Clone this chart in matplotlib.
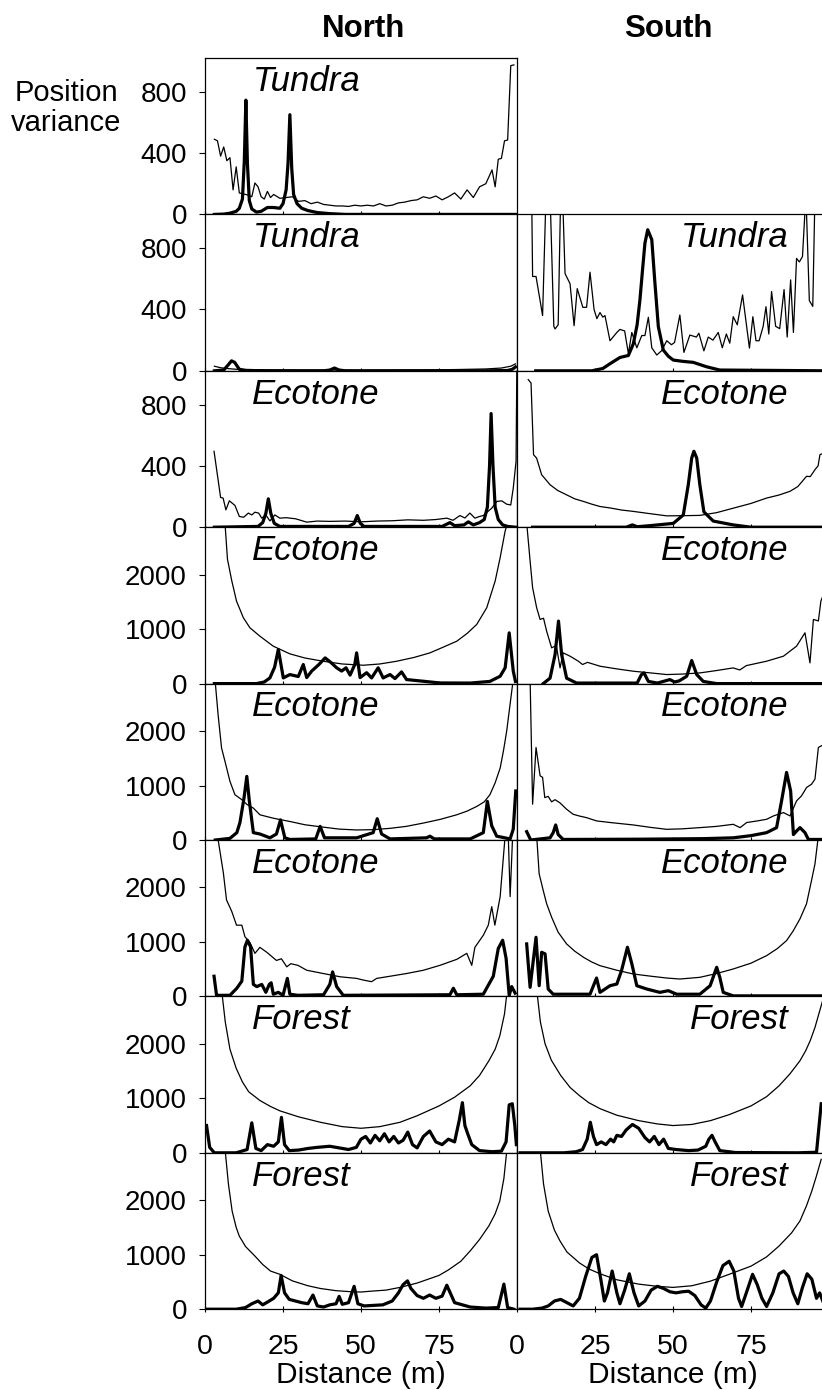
import matplotlib.pyplot as plt

plt.rcParams['font.family'] = ['Liberation Sans', 'DejaVu Sans']

# (distance in m, position variance) pairs
# thin line = variance of the estimate, thick line = peak of the position curve

# ---- North column ----
N1_THIN = [(3, 490), (4, 480), (5, 380), (6, 440), (7, 350), (8, 370), (9, 160), (10, 310), (11, 140),
           (12, 135), (13, 130), (14, 125), (15, 115), (16, 205), (17, 180), (18, 115), (19, 100), (20, 150),
           (21, 110), (22, 130), (24, 105), (26, 110), (28, 115), (30, 85), (32, 90), (34, 70), (36, 80),
           (38, 65), (40, 60), (42, 55), (44, 55), (46, 52), (48, 60), (50, 55), (52, 60), (54, 55), (56, 70),
           (58, 55), (60, 60), (62, 75), (64, 80), (66, 90), (68, 95), (70, 115), (72, 105), (74, 120),
           (76, 95), (78, 115), (80, 140), (82, 100), (84, 160), (86, 110), (88, 180), (90, 200), (92, 290),
           (93, 180), (94, 360), (95, 365), (96, 480), (97, 485), (98, 970), (99, 975)]
N1_THICK = [(3, 0), (6, 2), (8, 8), (10, 20), (11, 40), (12, 100), (12.6, 350), (13.1, 745), (13.6, 330),
            (14.2, 90), (15, 35), (16.5, 15), (18, 20), (20, 45), (22, 45), (24, 40), (25, 70), (26, 160),
            (26.6, 330), (27.2, 650), (27.8, 300), (28.4, 130), (29.5, 70), (31, 40), (33, 25), (36, 12),
            (40, 5), (45, 0), (99.5, 0)]

N2_THIN = [(3, 30), (5, 20), (7, 15), (10, 10), (15, 8), (20, 6), (30, 5), (40, 5), (50, 4), (60, 5),
           (70, 6), (80, 8), (90, 12), (95, 18), (98, 30), (99.5, 45)]
N2_THICK = [(3, 0), (6, 5), (7.5, 40), (8.5, 65), (9.5, 55), (11, 10), (13, 2), (20, 0), (38, 0), (40, 5),
            (41.5, 18), (43, 5), (45, 0), (60, 0), (90, 0), (97, 2), (98.5, 10), (99.5, 25)]

N3_THIN = [(2.9, 495), (5.0, 194), (5.8, 190), (6.7, 113), (7.8, 172), (9.6, 142), (11.0, 70), (12.4, 65),
           (13.9, 92), (15.0, 80), (16.0, 98), (17.2, 92), (18.2, 59), (19.5, 80), (20.8, 41), (22.4, 80),
           (24, 59), (26, 62), (29, 55), (32.6, 33), (36, 40), (40, 38), (45, 40), (50, 35), (55, 40),
           (60, 42), (65, 48), (70, 45), (74, 50), (77.5, 59), (79.5, 45), (81.7, 76), (83.3, 60), (84.9, 92),
           (86.5, 59), (88, 70), (89.2, 76), (91.9, 124), (93.5, 168), (95.1, 172), (96.7, 150), (98.0, 145),
           (98.8, 255), (99.7, 430), (99.95, 1050)]
N3_THICK = [(3, 0), (17, 5), (18.5, 30), (19.5, 90), (20.3, 185), (21.1, 90), (22.2, 25), (24, 5), (46, 5),
            (47.8, 25), (48.8, 76), (49.8, 25), (51, 5), (76, 5), (78.5, 30), (80, 10), (83, 15), (84.4, 35),
            (86, 15), (88, 30), (89.5, 50), (90.5, 130), (91.2, 400), (91.7, 741), (92.3, 400), (93, 130),
            (94, 50), (95.4, 15), (97, 5), (99.5, 0)]

N4_THIN = [(6.4, 2950), (7.2, 2282), (8.6, 1882), (10.1, 1514), (12.3, 1208), (14.4, 1024), (17.6, 870),
           (21.9, 686), (27.2, 546), (32, 470), (37.9, 410), (44, 360), (50.7, 337), (56, 360), (61.4, 410),
           (67, 480), (72.1, 564), (76, 660), (80.7, 778), (84, 920), (87.1, 1086), (90.3, 1392), (93, 1882),
           (94.6, 2312), (96.2, 2800), (97, 2950)]
N4_THICK = [(3, 0), (16.5, 0), (19, 30), (20.8, 104), (22.3, 300), (23.5, 626), (24.5, 300), (25.1, 104),
            (27.2, 166), (29.9, 130), (31.5, 350), (32.6, 110), (34.2, 230), (36.5, 350), (38.5, 472),
            (40.5, 380), (42.2, 290), (43.8, 230), (45.2, 290), (46.5, 155), (48, 350), (48.6, 564),
            (49.7, 110), (51.8, 200), (53.4, 104), (55.5, 290), (57.1, 104), (59.3, 166), (60.9, 92),
            (63, 215), (64.6, 74), (70, 43), (75.3, 12), (85, 10), (91.3, 40), (94.6, 135), (96.2, 290),
            (97.5, 931), (98.8, 230), (99.5, 40)]

N5_THIN = [(3.2, 2950), (4.2, 2300), (5.3, 1690), (6.4, 1444), (8.0, 1076), (9.6, 830), (11.8, 740),
           (13.5, 650), (15.5, 585), (17.6, 463), (19.8, 430), (21.9, 400), (24.5, 370), (27.2, 340),
           (32, 280), (37.9, 236), (43, 200), (48.6, 184), (54, 190), (59.3, 214), (64.5, 250), (70, 311),
           (75.5, 380), (80.7, 463), (84, 530), (87.1, 616), (89.5, 700), (91.3, 830), (93, 1050),
           (94.6, 1320), (95.7, 1650), (96.7, 2000), (97.8, 2500), (98.8, 2950)]
N5_THICK = [(3.3, 0), (8, 30), (10.2, 135), (11.2, 320), (12.5, 770), (13.4, 1168), (14.2, 720),
            (15.5, 135), (17.6, 110), (20.8, 40), (22.9, 110), (24.2, 370), (25.6, 40), (27.2, 10),
            (35.5, 20), (36.9, 250), (38.3, 40), (48.6, 40), (53.9, 135), (55.2, 390), (56.6, 110),
            (59.3, 20), (71, 40), (72.1, 70), (73.5, 20), (85, 20), (89.2, 135), (90.5, 708), (91.9, 260),
            (93.5, 70), (97.8, 20), (98.8, 200), (99.6, 900)]

N6_THIN = [(4.0, 2950), (5.9, 2260), (6.9, 1770), (8.6, 1555), (10.1, 1307), (11.8, 1307), (12.8, 1095),
           (14.4, 990), (16.0, 790), (17.6, 900), (19.8, 810), (22.9, 660), (24.5, 690), (26.2, 543),
           (27.5, 600), (29.8, 570), (32.6, 480), (37.9, 420), (43.3, 360), (48.6, 330), (50.7, 300),
           (53.4, 270), (55, 330), (59.3, 370), (64.6, 420), (70, 480), (75.3, 570), (80.7, 680),
           (83.9, 790), (85.5, 570), (86.5, 900), (89.2, 1122), (90.8, 1307), (91.9, 1647), (92.9, 1307),
           (94.6, 1830), (96.2, 2950), (97.2, 2950), (97.8, 1830), (98.6, 2950)]
N6_THICK = [(2.9, 370), (3.7, 20), (8, 20), (10.2, 150), (11.8, 280), (12.8, 910), (13.6, 1030),
            (14.6, 910), (15.5, 220), (16.6, 180), (18.2, 220), (19.5, 75), (20.6, 220), (21.2, 250),
            (21.9, 40), (23.5, 75), (25, 20), (26.4, 330), (27.2, 40), (29.8, 20), (38, 30), (40, 220),
            (40.9, 450), (42.2, 180), (44.3, 20), (78.5, 30), (79.6, 150), (80.7, 30), (89.2, 40),
            (92.4, 370), (94, 880), (95.4, 1030), (96.5, 700), (97.5, 20), (98.3, 180), (99.4, 60)]

N7_THIN = [(5.4, 2950), (6.5, 2400), (8, 1900), (10, 1550), (12, 1300), (14, 1120), (17.6, 960),
           (21, 850), (24, 770), (30, 660), (37, 560), (44, 480), (50, 450), (56, 480), (62.5, 560),
           (68, 680), (75, 860), (80, 1020), (85, 1230), (88, 1420), (91, 1690), (93, 1900), (94.5, 2150),
           (96, 2550), (96.8, 2950)]
N7_THICK = [(0.5, 500), (1.5, 100), (3, 0), (10, 0), (13.5, 60), (15, 550), (16.3, 80), (18, 40),
            (20, 150), (22, 120), (23.5, 200), (24.5, 650), (25.5, 150), (27, 40), (30, 50), (33, 80),
            (36, 100), (40, 120), (43, 90), (46, 60), (48.5, 100), (50, 250), (51.5, 300), (53, 180),
            (54.5, 320), (56, 220), (57.5, 350), (59, 200), (60.5, 300), (62, 180), (63.5, 230), (65, 380),
            (66.5, 150), (68, 90), (70, 300), (72, 400), (74, 200), (76, 150), (78, 250), (80, 200),
            (81.5, 600), (82.5, 920), (83.3, 500), (84.2, 350), (85.5, 150), (88, 40), (92, 20), (95, 30),
            (96.5, 200), (97.5, 880), (98.5, 900), (99.3, 500), (99.8, 150)]

N8_THIN = [(6.4, 2950), (7.5, 2300), (8.7, 1800), (10, 1500), (11, 1340), (13, 1150), (16, 975),
           (18.5, 820), (21, 700), (24, 640), (28, 520), (33, 430), (37, 380), (42, 340), (47, 320),
           (50, 315), (53, 330), (58, 350), (62.5, 400), (68, 480), (72, 560), (75, 620), (78, 720),
           (82, 880), (85, 1070), (88, 1280), (91, 1530), (93, 1750), (94.5, 1990), (95.8, 2400),
           (96.8, 2950)]
N8_THICK = [(0.5, 0), (10, 0), (13, 30), (15, 100), (17, 150), (18.5, 80), (20, 130), (22, 200),
            (23.5, 300), (24.4, 620), (25.5, 300), (27, 180), (29, 150), (31, 120), (33, 100), (34.6, 260),
            (36, 60), (38, 40), (40, 80), (42, 100), (43, 235), (44, 90), (46, 120), (47.8, 420), (49, 100),
            (51, 60), (54, 70), (57, 80), (60, 150), (62, 300), (63.5, 450), (64.9, 520), (66, 380),
            (68, 250), (70, 200), (72, 260), (74, 200), (76, 240), (77.5, 440), (80, 120), (85, 40),
            (90, 20), (94, 30), (95.8, 460), (97, 30), (99, 0)]

# ---- South column (no first-row panel) ----
S2_THIN = [(4.7, 1150), (5.0, 615), (6.1, 615), (7.4, 458), (8.2, 360), (9.3, 1150), (10.6, 1150),
           (11.8, 290), (12.2, 273), (13.2, 300), (14.0, 1150), (14.6, 1150), (15.4, 634), (17.0, 568),
           (18.3, 294), (19.3, 536), (21.1, 414), (22.3, 414), (23.4, 643), (24.7, 400), (25.6, 340),
           (26.6, 380), (27.5, 350), (28.2, 360), (29.8, 196), (32.0, 250), (33.0, 270), (34.5, 260),
           (35.7, 112), (36.8, 250), (38.4, 150), (40.0, 230), (41.0, 230), (42.1, 349), (43.2, 150),
           (44.8, 103), (46.3, 130), (48.0, 196), (49.5, 170), (50.5, 185), (52.2, 364), (53.5, 120),
           (55.4, 233), (57.5, 220), (58.3, 245), (59.9, 130), (61.3, 220), (62.8, 200), (64.5, 250),
           (65.8, 150), (67.1, 240), (68.2, 180), (69.3, 353), (70.6, 300), (72.3, 495), (74.5, 148),
           (75.6, 353), (76.6, 196), (77.6, 196), (78.9, 290), (79.8, 418), (80.7, 240), (81.6, 517),
           (82.9, 290), (84.2, 275), (85.6, 530), (86.6, 220), (87.7, 593), (88.6, 250), (89.6, 733),
           (90.5, 710), (91.5, 745), (92.6, 1150), (93.7, 458), (94.8, 420), (95.5, 1150), (97, 1150)]
S2_THICK = [(6, 0), (24, 0), (27.5, 15), (29.8, 46), (33, 87), (35.7, 100), (37.3, 177), (38.5, 300),
            (39.4, 462), (40.2, 650), (41, 832), (41.9, 920), (43.2, 855), (44.2, 574), (45.3, 288),
            (46.9, 135), (48.5, 95), (50.1, 70), (53, 62), (56.5, 55), (60.8, 26), (65, 5), (99, 0)]

S3_THIN = [(3.6, 963), (4.5, 940), (5.3, 473), (6.3, 450), (7.9, 342), (10.6, 277), (13, 240), (15.9, 211),
           (18.5, 185), (21.3, 168), (24, 150), (26.6, 135), (30, 125), (33.5, 112), (37.3, 103), (42, 90),
           (48, 74), (53, 75), (58.6, 77), (64, 95), (69.3, 124), (75, 155), (80, 190), (84, 210),
           (87.5, 234), (90, 265), (92.8, 332), (94, 330), (95.5, 375), (96.5, 400), (97.1, 473), (98, 480)]
S3_THICK = [(5, 0), (35, 0), (37, 15), (38.5, 3), (42.6, 10), (50.1, 25), (53.3, 80), (54.9, 277),
            (56, 451), (56.7, 495), (57.6, 451), (58.6, 277), (59.9, 100), (62.9, 40), (69.3, 15), (75, 0),
            (99, 0)]

S4_THIN = [(3.1, 2950), (4.2, 2250), (5.0, 1760), (6.3, 1392), (7.4, 1177), (8.5, 1200), (9.5, 962),
           (11.1, 656), (12.6, 700), (13.8, 288), (14.8, 564), (17.0, 503), (19.7, 410), (21, 350),
           (22.6, 390), (26.6, 319), (32, 270), (37.3, 227), (43, 195), (48, 166), (53, 175), (58.6, 196),
           (64, 240), (69.3, 288), (71.4, 250), (73.5, 330), (80, 411), (85.4, 503), (89.6, 687),
           (92.3, 932), (93.9, 380), (95.0, 1177), (96.6, 1150), (97.4, 1515), (98, 1600)]
S4_THICK = [(8.4, 0), (10.6, 100), (12.2, 534), (13.3, 1147), (14.3, 534), (15.9, 100), (19.1, 10),
            (38.5, 10), (39.9, 166), (40.7, 196), (42.1, 40), (45, 10), (49, 74), (50.5, 30), (52, 50),
            (54.4, 135), (56, 423), (57.6, 166), (59.7, 40), (64, 0), (99, 0)]

S5_THIN = [(4.2, 2950), (5.0, 657), (6.1, 1698), (7.4, 1178), (8.2, 1150), (8.9, 778), (10, 800),
           (11.1, 700), (12.2, 740), (13.8, 680), (15.9, 564), (18, 472), (20, 440), (22.3, 410),
           (25.5, 350), (30, 320), (37.3, 276), (43, 230), (48, 196), (53, 205), (58.6, 227), (64, 250),
           (69.3, 288), (71.5, 227), (73.6, 320), (77, 350), (80, 380), (82.2, 442), (85.4, 503),
           (87.5, 442), (89.6, 718), (91.2, 810), (92.8, 963), (94.4, 1024), (95.5, 1116), (96.6, 1698),
           (97.6, 1730), (98.5, 1750)]
S5_THICK = [(3.1, 153), (4.4, 0), (10.6, 40), (11.6, 135), (12.4, 276), (13.2, 100), (14.8, 10),
            (40, 15), (60, 25), (69.3, 40), (75, 80), (80, 135), (83.2, 227), (84.8, 718), (86.4, 1240),
            (87.7, 900), (88.6, 100), (89.6, 165), (90.7, 227), (92.3, 135), (93.4, 10), (98, 10)]

S6_THIN = [(6.3, 2950), (7.1, 2250), (8.4, 1945), (9.5, 1700), (11.1, 1453), (13.2, 1177), (15.9, 963),
           (18.5, 830), (21.3, 718), (24, 630), (26.6, 564), (32, 480), (37.3, 411), (43, 370), (48, 337),
           (52.2, 319), (58.6, 350), (64, 420), (69.3, 503), (75, 610), (80, 748), (83.5, 880),
           (86.4, 1024), (88.5, 1200), (90.7, 1423), (92.8, 1700), (94.4, 2128), (95.5, 2430),
           (96.6, 2950)]
S6_THICK = [(3.1, 963), (4.2, 166), (6.1, 1085), (7.1, 196), (7.9, 810), (9.0, 780), (10.0, 135),
            (11.6, 40), (23.4, 40), (25.5, 337), (26.6, 74), (28.2, 135), (29.8, 196), (32.0, 227),
            (33.5, 473), (35.4, 902), (36.8, 600), (38.4, 196), (41.6, 135), (45.8, 74), (48.5, 105),
            (51.2, 40), (58.6, 40), (61.9, 196), (64.0, 534), (65.0, 350), (66.1, 74), (69.3, 10), (98, 10)]

S7_THIN = [(6.4, 2950), (7.5, 2400), (9, 2000), (11, 1700), (14, 1420), (17, 1200), (20, 1050),
           (23, 920), (26.6, 810), (32, 690), (39, 590), (45, 530), (50, 500), (56, 520), (62, 590),
           (68, 700), (75, 860), (80, 1030), (84, 1230), (87.5, 1450), (90.7, 1690), (92.5, 1870),
           (94, 2060), (95.5, 2300), (97, 2600), (98, 2800)]
S7_THICK = [(1, 0), (15, 0), (19, 20), (21, 60), (22.5, 250), (23.5, 560), (24.5, 300), (25.5, 150),
            (27, 200), (28.5, 150), (30, 250), (31, 200), (32, 320), (33.5, 300), (35, 420), (37, 520),
            (39, 450), (41, 280), (42.5, 200), (44, 300), (45.5, 150), (47, 250), (48.5, 80), (51, 60),
            (55, 40), (58, 50), (60.5, 120), (61.5, 250), (62.5, 320), (63.5, 200), (65, 40), (70, 5),
            (90, 0), (96, 10), (97.5, 900)]

S8_THIN = [(7.4, 2950), (8.5, 2300), (10, 1800), (12, 1450), (13.8, 1250), (16, 1050), (20, 850),
           (23, 740), (26.6, 650), (32, 540), (39, 460), (45, 420), (50, 400), (56, 430), (62, 515),
           (68, 640), (75, 790), (80, 960), (84, 1160), (88, 1400), (90.7, 1620), (92.8, 1900),
           (94.5, 2170), (96, 2450), (97.5, 2750)]
S8_THICK = [(1, 0), (5, 0), (8, 20), (10, 60), (12, 150), (14, 180), (16, 120), (18, 60), (20, 200),
            (22, 600), (24, 950), (25.5, 1000), (27, 500), (28, 150), (29, 300), (30.5, 700), (32, 300),
            (33, 100), (34.5, 350), (36, 650), (37.5, 300), (39, 60), (41, 150), (43, 350), (45, 420),
            (47, 380), (49, 320), (51, 300), (53, 320), (55, 330), (57, 250), (59, 80), (60.5, 20),
            (62, 150), (64, 500), (66, 800), (68, 880), (69.5, 700), (71, 200), (72, 50), (73.5, 300),
            (75.5, 640), (77, 450), (78.5, 200), (80, 50), (82, 300), (84, 650), (85.5, 700), (87, 600),
            (88.5, 300), (90, 100), (91.5, 400), (93, 650), (94.5, 550), (96, 200), (97, 300), (98, 150)]

NORTH = [(N1_THIN, N1_THICK), (N2_THIN, N2_THICK), (N3_THIN, N3_THICK), (N4_THIN, N4_THICK),
         (N5_THIN, N5_THICK), (N6_THIN, N6_THICK), (N7_THIN, N7_THICK), (N8_THIN, N8_THICK)]
SOUTH = [None, (S2_THIN, S2_THICK), (S3_THIN, S3_THICK), (S4_THIN, S4_THICK),
         (S5_THIN, S5_THICK), (S6_THIN, S6_THICK), (S7_THIN, S7_THICK), (S8_THIN, S8_THICK)]
NORTH_LABELS = ['Tundra', 'Tundra', 'Ecotone', 'Ecotone', 'Ecotone', 'Ecotone', 'Forest', 'Forest']
SOUTH_LABELS = [None, 'Tundra', 'Ecotone', 'Ecotone', 'Ecotone', 'Ecotone', 'Forest', 'Forest']
Y_TOP = [1020, 1020, 1020, 2870, 2870, 2870, 2870, 2870]
Y_TICKS_SMALL = [0, 400, 800]
Y_TICKS_BIG = [0, 1000, 2000]
X_TICKS = [0, 25, 50, 75]

W, H = 822, 1390
fig = plt.figure(figsize=(W / 100, H / 100), dpi=100)

TOP, ROW_H = 58, 156.4
COL_LEFT = [205, 517]
COL_W = 312


def draw_panel(ax, thin, thick):
    ax.plot([p[0] for p in thin], [p[1] for p in thin], color='black', lw=0.9)
    ax.plot([p[0] for p in thick], [p[1] for p in thick], color='black', lw=2.3, solid_joinstyle='round')


for row in range(8):
    bottom = 1 - (TOP + (row + 1) * ROW_H) / H
    for col, (panels, labels) in enumerate([(NORTH, NORTH_LABELS), (SOUTH, SOUTH_LABELS)]):
        if panels[row] is None:
            continue
        ax = fig.add_axes([COL_LEFT[col] / W, bottom, COL_W / W, ROW_H / H])
        draw_panel(ax, *panels[row])
        ax.set_xlim(0, 100)
        ax.set_ylim(0, Y_TOP[row])
        for s in ax.spines.values():
            s.set_linewidth(0.9)
        ax.set_xticks(X_TICKS)
        ax.tick_params(axis='x', direction='inout', length=5, width=0.8, labelsize=20.5, pad=15,
                       labelbottom=(row == 7))
        if col == 0:
            ax.set_yticks(Y_TICKS_SMALL if row < 3 else Y_TICKS_BIG)
            ax.tick_params(axis='y', direction='out', length=4, width=0.8, labelsize=20, pad=9)
            ax.text(0.152, 0.79, labels[row], transform=ax.transAxes, fontsize=25,
                    style='italic', ha='left', va='baseline')
        else:
            ax.set_yticks([])
            ax.text(0.87, 0.79, labels[row], transform=ax.transAxes, fontsize=25,
                    style='italic', ha='right', va='baseline')
        if row == 7:
            ax.set_xlabel('Distance (m)', fontsize=21.5, labelpad=1)

fig.text(364 / W, 1 - 29 / H, 'North', fontsize=22.5, fontweight='bold', ha='center', va='center')
fig.text(668 / W, 1 - 29 / H, 'South', fontsize=22.5, fontweight='bold', ha='center', va='center')
fig.text(66 / W, 1 - 108 / H, 'Position\nvariance', fontsize=21, ha='center', va='center',
         linespacing=1.05)

fig.savefig('out.png', dpi=100)
